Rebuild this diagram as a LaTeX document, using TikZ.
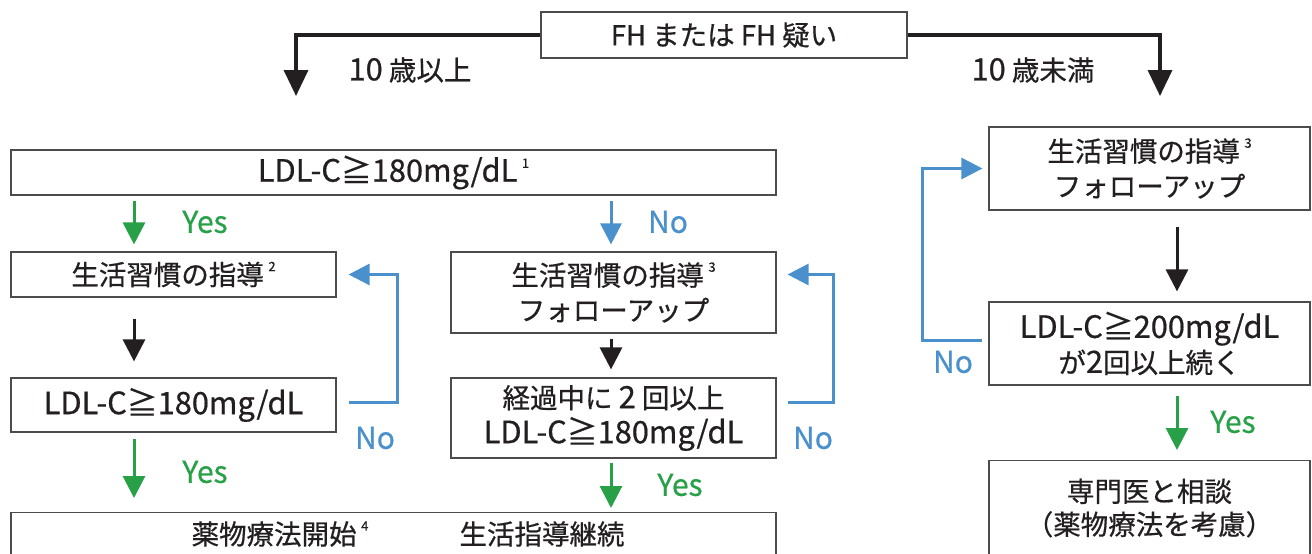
\documentclass[tikz,border=0pt]{standalone}
\usepackage{fontspec}
\setmainfont{Noto Sans CJK JP}[FakeBold=0.6]
\newfontfamily\latfont{Noto Sans CJK JP}[Scale=1.12,FakeBold=0.6]
\usetikzlibrary{arrows.meta,calc}
\definecolor{ygreen}{RGB}{40,160,72}
\definecolor{nblue}{RGB}{74,144,204}
\definecolor{ink}{RGB}{35,31,32}
\newcommand{\supn}[1]{\,\raisebox{0.5em}{\fontsize{13}{14}\selectfont #1}}
\newcommand{\lat}[1]{{\latfont #1}}
\begin{document}
\begin{tikzpicture}[x=1pt,y=-1pt,
  box/.style={draw=black!70, line width=1.2pt, fill=white, inner sep=0pt, align=center,
    text=ink, font=\fontsize{27.5}{35}\selectfont},
  lbl/.style={inner sep=0pt, text=ink, font=\fontsize{27.5}{30}\selectfont},
  blackarr/.style={line width=3pt, draw=ink, -{Triangle[width=22pt,length=22pt]}},
  toparr/.style={line width=3.5pt, draw=ink, -{Triangle[width=24pt,length=26pt]}},
  yesarr/.style={line width=3pt, draw=ygreen, -{Triangle[width=22pt,length=22pt]}},
  noarr/.style={line width=3pt, draw=nblue, -{Triangle[width=21pt,length=21pt]}},
  yeslbl/.style={inner sep=0pt, text=ygreen, font=\fontsize{30}{32}\selectfont},
  nolbl/.style={inner sep=0pt, text=nblue, font=\fontsize{30}{32}\selectfont}]
\useasboundingbox (0,0) rectangle (1312,554);

% top
\node[box, minimum width=366pt, minimum height=46pt] (fh) at (724,35) {FH または FH 疑い};
\coordinate (tl) at (296,96);
\coordinate (tr) at (1160,96);
\draw[toparr] (fh.west) -| (tl);
\draw[toparr] (fh.east) -| (tr);
\node[lbl] (age1) at (410,70) {\lat{10} 歳以上};
\node[lbl] (age2) at (1033,70) {\lat{10} 歳未満};

% left side
\node[box, minimum width=765pt, minimum height=45pt] (ldl1) at (393.5,172.5) {\lat{LDL-C≧180mg/dL}\supn{1}};
\node[box, minimum width=325pt, minimum height=45pt] (life2) at (173.5,274.5) {生活習慣の指導\supn{2}};
\node[box, minimum width=325pt, minimum height=81pt] (life3) at (613.5,292.5) {生活習慣の指導\supn{3}\\フォローアップ};
\node[box, minimum width=325pt, minimum height=54pt] (ldl2) at (173.5,405) {\lat{LDL-C≧180mg/dL}};
\node[box, minimum width=325pt, minimum height=80pt] (course) at (613.5,418) {経過中に \lat{2} 回以上\\\lat{LDL-C≧180mg/dL}};
\node[box, minimum width=765pt, minimum height=60pt, anchor=north] (bot) at (393.5,512) {};
\node[lbl] (drug) at (280,534) {薬物療法開始\supn{4}};
\node[lbl] (cont) at (542,534) {生活指導継続};

\coordinate (cA) at (134,0);
\coordinate (cB) at (611,0);
\draw[yesarr] ([yshift=-5pt]ldl1.south -| cA) -- ([yshift=7pt]life2.north -| cA);
\node[yeslbl] (y1) at (205,222) {Yes};
\draw[noarr] ([yshift=-5pt]ldl1.south -| cB) -- ([yshift=7pt]life3.north -| cB);
\node[nolbl] (n1) at (668,222) {No};
\draw[blackarr] ([yshift=-21pt]life2.south -| cA) -- ([yshift=16pt]ldl2.north -| cA);
\draw[yesarr] ([yshift=-6pt]ldl2.south -| cA) -- ([yshift=14pt]bot.north -| cA);
\node[yeslbl] (y2) at (205,472) {Yes};
\draw[blackarr] ([yshift=-5pt]life3.south -| cB) -- ([yshift=8pt]course.north -| cB);
\draw[yesarr] ([yshift=-4pt]course.south -| cB) -- ([yshift=4pt]bot.north -| cB);
\node[yeslbl] (y3) at (680,485) {Yes};

\coordinate (loopA) at (397,0);
\coordinate (loopB) at (833,0);
\draw[noarr] ([xshift=12pt,yshift=3pt]ldl2.east) -| (loopA |- life2.east) -- ([xshift=12pt]life2.east);
\node[nolbl] (n2) at (375,438) {No};
\draw[noarr] ([xshift=11pt,yshift=16pt]course.east) -| (loopB |- life2.east) -- ([xshift=11pt]life3.east |- life2.east);
\node[nolbl] (n3) at (813,438) {No};

% right side
\node[box, minimum width=321pt, minimum height=83pt] (rlife) at (1149.5,168.5) {生活習慣の指導\supn{3}\\フォローアップ};
\node[box, minimum width=321pt, minimum height=83pt] (rldl) at (1149.5,343.5) {\lat{LDL-C≧200mg/dL}\\が\lat{2}回以上続く};
\node[box, minimum width=321pt, minimum height=110pt, anchor=north] (spec) at (1149.5,460) {};
\node[lbl, align=center, font=\fontsize{27.5}{33}\selectfont] (spectxt) at (1149.5,508) {専門医と相談\\（薬物療法を考慮）};

\coordinate (cC) at (1177,0);
\coordinate (loopC) at (922,0);
\draw[blackarr] ([yshift=-16pt]rlife.south -| cC) -- ([yshift=10pt]rldl.north -| cC);
\draw[yesarr] ([yshift=-10pt]rldl.south -| cC) -- ([yshift=10pt]spec.north -| cC);
\node[yeslbl] (y4) at (1233,422) {Yes};
\draw[noarr] ([xshift=-6pt,yshift=3.5pt]rldl.west) -| (loopC |- rlife.west) -- ([xshift=-6pt]rlife.west);
\node[nolbl] (n4) at (953,362) {No};
\end{tikzpicture}
\end{document}
